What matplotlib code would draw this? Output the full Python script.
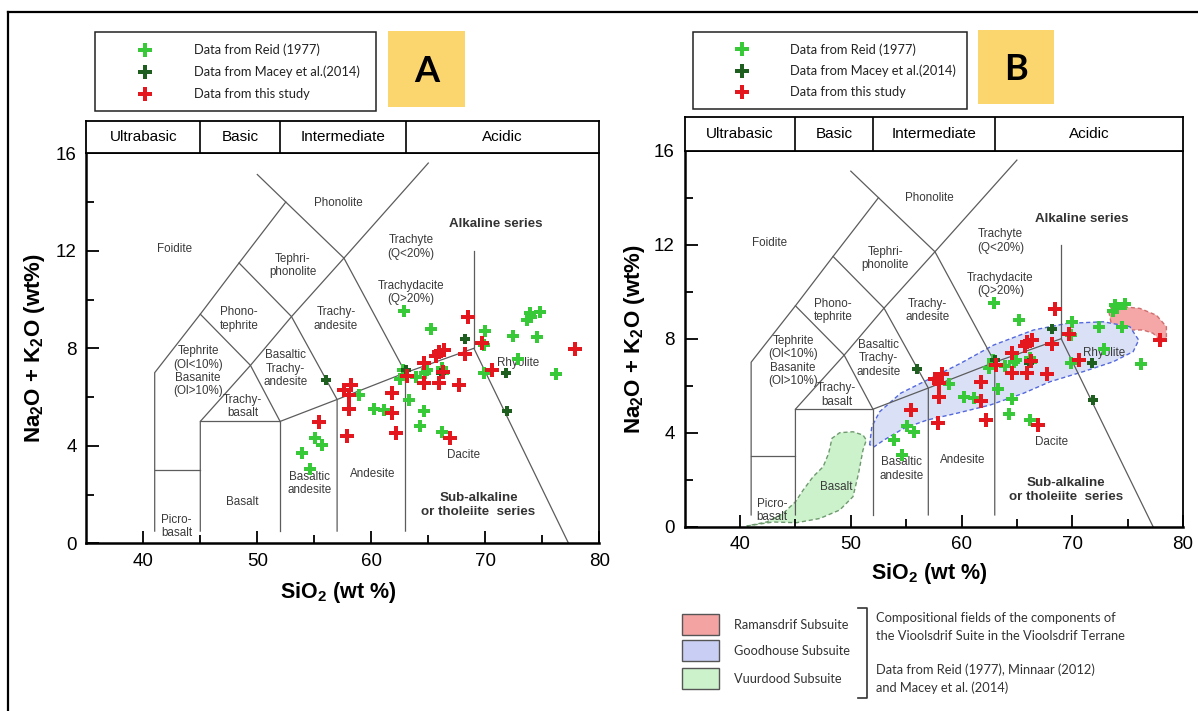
import numpy as np
import matplotlib.pyplot as plt
from matplotlib.patches import Rectangle

plt.rcParams['font.family'] = ['Liberation Sans', 'DejaVu Sans']
plt.rcParams['mathtext.default'] = 'regular'

W, H = 1198, 711

# --- data (SiO2 wt%, Na2O+K2O wt%) ---
reid_x = [62.9, 65.2, 73.9, 74.8, 73.7, 74.0, 70.0, 72.4, 74.5, 69.9, 69.9, 76.2, 64.9, 62.8,
          62.5, 63.9, 66.2, 63.3, 64.6, 64.3, 66.2, 60.2, 61.1, 58.9, 55.1, 55.7, 53.9, 54.6,
          72.9, 64.7, 66.3]
reid_y = [9.51, 8.78, 9.44, 9.48, 9.17, 9.3, 8.69, 8.51, 8.48, 8.14, 6.97, 6.93, 7.1, 7.1,
          6.76, 6.83, 7.18, 5.87, 5.42, 4.81, 4.56, 5.53, 5.46, 6.07, 4.3, 4.05, 3.71, 3.05,
          7.58, 7.0, 7.0]
macey_x = [56.0, 71.8, 71.9, 63.0, 66.1, 68.2]
macey_y = [6.7, 6.98, 5.41, 7.1, 6.98, 8.4]
study_x = [68.45, 77.9, 70.6, 69.7, 68.2, 65.9, 66.4, 65.7, 64.6, 66.3, 64.6, 65.9, 67.7, 63.1,
           61.8, 61.8, 62.2, 66.9, 58.2, 57.6, 58.0, 58.0, 57.9, 55.4]
study_y = [9.27, 7.96, 7.1, 8.2, 7.77, 7.86, 7.93, 7.7, 7.38, 7.04, 6.56, 6.56, 6.49, 6.87,
           6.17, 5.36, 4.54, 4.32, 6.49, 6.28, 6.1, 5.53, 4.42, 4.98]

# compositional fields of the Vioolsdrif Suite (panel B)
ramansdrif_x = [73.3, 73.7, 74.6, 75.2, 76.4, 77.3, 78.1, 78.5, 78.5, 77.6, 76.1, 74.6, 73.5]
ramansdrif_y = [9.15, 8.23, 8.16, 8.37, 8.37, 8.23, 7.87, 8.0, 8.51, 9.0, 9.29, 9.36, 9.34]
goodhouse_x = [51.7, 51.9, 52.6, 54.5, 56.9, 59.9, 62.9, 66.5, 69.5, 72.8, 75.2, 76.0, 75.5,
               73.7, 71.0, 68.0, 65.6, 62.6, 59.6, 56.9, 54.8, 53.0, 52.1]
goodhouse_y = [3.48, 4.26, 4.89, 5.68, 6.24, 6.95, 7.73, 8.37, 8.65, 8.72, 8.51, 7.94, 7.45,
               7.02, 6.6, 6.17, 5.68, 5.18, 4.83, 4.54, 4.19, 3.69, 3.4]
vuurdood_x = [40.6, 43.0, 45.1, 47.2, 49.0, 50.2, 50.7, 51.1, 51.4, 51.1, 50.2, 49.0, 48.3,
              48.0, 47.5, 46.6, 45.7, 45.0, 43.9, 42.4]
vuurdood_y = [0.03, 0.2, 0.17, 0.35, 0.71, 1.28, 2.27, 3.26, 3.69, 3.9, 4.04, 4.0, 3.76,
              3.12, 2.55, 2.13, 1.56, 1.06, 0.57, 0.2]

# TAS boundaries
tas_lines = [
    [(41, 0.5), (41, 7), (45, 9.4), (48.4, 11.5), (52.5, 14)],
    [(41, 3), (45, 3)],
    [(45, 0.5), (45, 5), (49.4, 7.3), (53, 9.3), (57.6, 11.7), (65, 15.6)],
    [(45, 5), (52, 5), (52, 0.5)],
    [(52, 5), (57, 5.9), (63, 7), (69, 8), (77.3, 0)],
    [(57, 0.5), (57, 5.9), (53, 9.3), (48.4, 11.5)],
    [(63, 0.5), (63, 7), (57.6, 11.7), (52.5, 14), (50, 15.13)],
    [(52, 5), (49.4, 7.3), (45, 9.4)],
    [(69, 8), (69, 12)],
]
tas_labels = [
    ("Phonolite", 57.1, 13.97), ("Foidite", 42.7, 12.09), ("Tephri-\nphonolite", 53.1, 11.4),
    ("Trachyte\n(Q<20%)", 63.5, 12.16), ("Trachydacite\n(Q>20%)", 63.5, 10.3),
    ("Phono-\ntephrite", 48.4, 9.2), ("Trachy-\nandesite", 56.9, 9.2),
    ("Tephrite\n(Ol<10%)\nBasanite\n(Ol>10%)", 44.8, 7.05),
    ("Basaltic\nTrachy-\nandesite", 52.5, 7.17), ("Trachy-\nbasalt", 48.7, 5.6),
    ("Basaltic\nandesite", 54.6, 2.46), ("Andesite", 60.1, 2.83), ("Dacite", 68.1, 3.62),
    ("Rhyolite", 72.9, 7.4), ("Basalt", 48.7, 1.68), ("Picro-\nbasalt", 42.9, 0.68),
]
series_labels = [("Alkaline series", 70.9, 13.1), ("Sub-alkaline\nor tholeiite  series", 69.4, 1.57)]

classes = ["Ultrabasic", "Basic", "Intermediate", "Acidic"]
class_edges = [35, 45, 52, 63, 80]

key_labels = ["Data from Reid (1977)", "Data from Macey et al.(2014)", "Data from this study"]
field_labels = ["Ramansdrif Subsuite", "Goodhouse Subsuite", "Vuurdood Subsuite"]
field_note = ["Compositional fields of the components of",
              "the Vioolsdrif Suite in the Vioolsdrif Terrane",
              "Data from Reid (1977), Minnaar (2012)",
              "and Macey et al. (2014)"]

LIGHT = '#38c938'
DARK = '#1e5e1e'
RED = '#e3171d'
field_colors = ['#f5a7a7', '#dae1f7', '#ccf2cc']
key_colors = ['#f4a3a3', '#c9cff4', '#ccf2cc']
field_edges = ['#cf6e6e', '#5468dd', '#6f9a6f']
key_font = ['Lato', 'DejaVu Sans']


def frac(l, t, r, b):
    return [l / W, 1 - b / H, (r - l) / W, (b - t) / H]


fig = plt.figure(figsize=(W / 100, H / 100), dpi=100)
ov = fig.add_axes([0, 0, 1, 1])
ov.set_xlim(0, W)
ov.set_ylim(H, 0)
ov.axis('off')
ov.plot([8, W], [12, 12], color='black', lw=1.6)
ov.plot([8, 8], [12, H], color='black', lw=1.6)


def draw_panel(rect, bar_rect, fields):
    ax = fig.add_axes(frac(*rect))
    ax.set_xlim(35, 80)
    ax.set_ylim(0, 16)
    for seg in tas_lines:
        xs, ys = zip(*seg)
        ax.plot(xs, ys, color='#5c5c5c', lw=0.9, zorder=2)
    if fields:
        for (fx, fy), fc, ec in zip([(ramansdrif_x, ramansdrif_y), (goodhouse_x, goodhouse_y),
                                     (vuurdood_x, vuurdood_y)], field_colors, field_edges):
            ax.fill(fx, fy, facecolor=fc, edgecolor=ec, lw=1.0, ls=(0, (3, 2)), zorder=1)
    for t, x, y in tas_labels:
        ax.text(x, y, t, ha='center', va='center', fontsize=8.4, color='#3a3a3a',
                linespacing=1.15, zorder=3)
    for t, x, y in series_labels:
        ax.text(x, y, t, ha='center', va='center', fontsize=9.6, fontweight='bold',
                color='#333333', linespacing=1.25, zorder=3)
    ax.plot(reid_x, reid_y, 'P', color=LIGHT, ms=8, mew=0, zorder=4)
    ax.plot(macey_x, macey_y, 'P', color=DARK, ms=7.5, mew=0, zorder=4)
    ax.plot(study_x, study_y, 'P', color=RED, ms=10.5, mew=0, zorder=5)

    ax.set_xticks([40, 50, 60, 70, 80])
    ax.set_xticks([45, 55, 65, 75], minor=True)
    ax.set_yticks([0, 4, 8, 12, 16])
    ax.set_yticks([2, 6, 10, 14], minor=True)
    ax.tick_params(which='both', direction='in', top=False, right=False, width=1.3,
                   labelsize=13.5, colors='black')
    ax.tick_params(which='major', length=9, pad=7)
    ax.tick_params(which='minor', length=6)
    for s in ['left', 'bottom']:
        ax.spines[s].set_linewidth(1.8)
    for s in ['top', 'right']:
        ax.spines[s].set_linewidth(1.3)
    ax.text(-0.1, 0.5, r'Na$_2$O + K$_2$O (wt%)', transform=ax.transAxes, rotation=90,
            ha='center', va='center', fontsize=16, fontweight='bold')
    ax.text(0.49, -0.125, r'SiO$_2$ (wt %)', transform=ax.transAxes,
            ha='center', va='center', fontsize=15.5, fontweight='bold')

    bar = fig.add_axes(frac(*bar_rect))
    bar.set_xlim(35, 80)
    bar.set_ylim(0, 1)
    bar.set_xticks([])
    bar.set_yticks([])
    for s in bar.spines.values():
        s.set_linewidth(1.3)
    for e in class_edges[1:-1]:
        bar.axvline(e, color='black', lw=1.2)
    for c, a, b in zip(classes, class_edges[:-1], class_edges[1:]):
        bar.text((a + b) / 2, 0.5, c, ha='center', va='center', fontsize=11)
    return ax


def draw_key(l, t, r, b, mx, tx, rows, letter, lbox):
    ov.add_patch(Rectangle((l, t), r - l, b - t, facecolor='white', edgecolor='#222222', lw=1.1))
    for c, ry, lab in zip([LIGHT, DARK, RED], rows, key_labels):
        ov.plot(mx, ry, 'P', color=c, ms=10, mew=0)
        ov.text(tx, ry, lab, va='center', ha='left', fontsize=9.3, family=key_font, color='#222222')
    bl, bt, br, bb = lbox
    ov.add_patch(Rectangle((bl, bt), br - bl, bb - bt, facecolor='#fbd56e', edgecolor='none'))
    ov.text((bl + br) / 2, (bt + bb) / 2 + 2, letter, ha='center', va='center', fontsize=26,
            fontweight='bold', family=key_font)


draw_panel((86.3, 153.3, 599.3, 543.3), (86.3, 120.7, 599.3, 153.3), False)
draw_panel((684.7, 150.7, 1183, 526.7), (684.7, 116.7, 1183, 150.7), True)

draw_key(95, 32, 376, 111, 144.7, 194.4, [50, 71.7, 93.5], 'A', (388, 31, 465, 107))
draw_key(693, 32, 967, 109, 741.6, 790.2, [49.3, 70.7, 91.7], 'B', (978, 30, 1054, 104))

# fields key below panel B
for fc, ty, lab in zip(key_colors, [614, 640, 668.3], field_labels):
    ov.add_patch(Rectangle((682.3, ty), 36.3, 21, facecolor=fc, edgecolor='#555555', lw=1.0))
    ov.text(734, ty + 11, lab, va='center', ha='left', fontsize=9.2, family=key_font, color='#333333')
ov.plot([858, 867, 867, 858], [608.3, 608.3, 698.3, 698.3], color='#333333', lw=1.2)
for ty, line in zip([617.7, 636, 670, 687.3], field_note):
    ov.text(876.3, ty, line, va='center', ha='left', fontsize=9.3, family=key_font, color='#333333')

fig.savefig('out.png', dpi=100)
